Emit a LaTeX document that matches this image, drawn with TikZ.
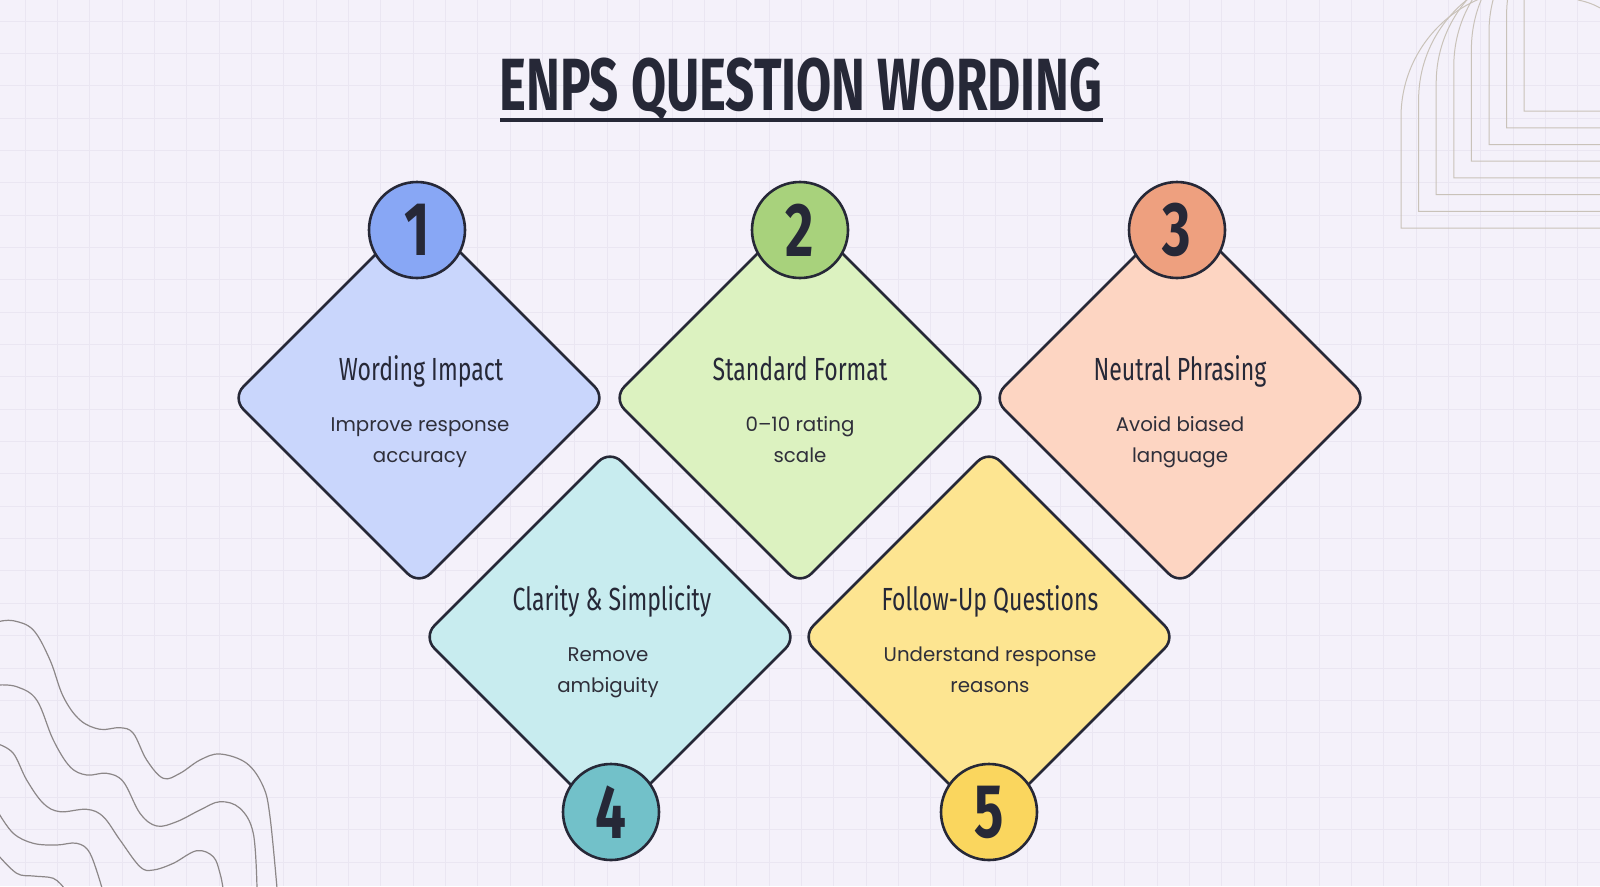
\documentclass[tikz,border=0pt]{standalone}
\usepackage{fontspec}
\usepackage{graphicx}
\usetikzlibrary{shapes.geometric}
\newfontfamily\headfont{Fira Sans}
\newfontfamily\bodyfont{Poppins}
\definecolor{bgc}{HTML}{F4F1FA}
\definecolor{gridc}{HTML}{EAE6F2}
\definecolor{ink}{HTML}{262837}
\definecolor{bodyc}{HTML}{2F2F3A}
\definecolor{archc}{HTML}{C9C2B9}
\definecolor{wavec}{HTML}{8C8788}
\definecolor{dA}{HTML}{C9D6FC}\definecolor{cA}{HTML}{88A7F5}
\definecolor{dB}{HTML}{DCF2C0}\definecolor{cB}{HTML}{A8D27C}
\definecolor{dC}{HTML}{FDD5C2}\definecolor{cC}{HTML}{EEA07F}
\definecolor{dD}{HTML}{C8ECEF}\definecolor{cD}{HTML}{72C1C9}
\definecolor{dE}{HTML}{FDE591}\definecolor{cE}{HTML}{FAD65E}
\newcommand{\headtxt}[1]{\scalebox{0.72}[1]{\headfont\fontsize{32}{32}\selectfont #1}}
\newcommand{\numtxt}[1]{\scalebox{0.72}[1]{\headfont\bfseries\fontsize{76}{76}\selectfont #1}}
\tikzset{
  gridline/.style={draw=gridc, line width=1pt},
  archline/.style={draw=archc, line width=1pt},
  waveline/.style={draw=wavec, line width=1.2pt},
  diabox/.style={diamond, draw=ink, line width=2.6pt, rounded corners=16pt, minimum width=375pt, minimum height=375pt, inner sep=0pt, aspect=1},
  numcirc/.style={circle, draw=ink, line width=2.6pt, minimum size=96pt, inner sep=0pt, text=ink},
  headlbl/.style={anchor=base, text=ink, inner sep=0pt},
  bodylbl/.style={anchor=base, text=bodyc, align=center, inner sep=0pt, font=\bodyfont\fontsize{19.8}{30.5}\selectfont},
}
\begin{document}
\begin{tikzpicture}[x=1pt,y=-1pt]
\path[fill=bgc] (0,0) rectangle (1600,886);
\useasboundingbox (0,0) rectangle (1600,886);
\begin{scope}
\clip (0,0) rectangle (1600,886);
% grid
\foreach \i in {0,...,49} \draw[gridline] ({25+32.35*\i},0) -- ({25+32.35*\i},886);
\foreach \j in {0,...,27} \draw[gridline] (0,{21+32.35*\j}) -- (1600,{21+32.35*\j});
% arches top right
\foreach \i in {0,...,7} {
  \pgfmathsetmacro\xl{1401+17.6*\i}
  \pgfmathsetmacro\yb{228-16.7*\i}
  \pgfmathsetmacro\yc{117-17*\i}
  \draw[archline] (1600,\yb) -- (\xl,\yb) -- (\xl,\yc) arc[start angle=180, end angle=270, radius=128];
}
\draw[archline] (1578,0) .. controls (1588,2) and (1595,5) .. (1602,9);
% waves bottom left
\draw[waveline] plot[smooth, tension=0.6] coordinates {(-2,621.7) (13.3,620.7) (33.3,630) (50,660) (63.3,696.7) (80,720) (100,729.3) (120,727.7) (133.3,733.3) (146.7,760) (163.3,778.3) (180,773.3) (200,760) (220,754) (246.7,763.3) (263.3,786.7) (270,816.7) (277,888)};
\draw[waveline] plot[smooth, tension=0.6] coordinates {(-2,685) (16.7,686.7) (36.7,700) (53.3,740) (70,766.7) (86.7,775) (106.7,773.3) (123.3,781.7) (140,813.3) (156.7,826) (176.7,821.7) (200,810) (220,801.7) (240,808.3) (253.3,833.3) (257,888)};
\draw[waveline] plot[smooth, tension=0.6] coordinates {(-2,744) (13.3,753.3) (26.7,780) (43.3,803.3) (60,811.7) (86.7,809.3) (103.3,816.7) (120,840) (140,866.7) (153.3,870) (173.3,863.3) (196.7,850.7) (213.3,856.7) (220,873.3) (223,888)};
\draw[waveline] plot[smooth, tension=0.6] coordinates {(-2,812) (13.3,833.3) (33.3,843.3) (56.7,845) (76.7,843.3) (90,853.3) (102,888)};
\draw[waveline] plot[smooth, tension=0.6] coordinates {(-2,855) (16.7,873.3) (33.3,876) (53.3,878.3) (64,888)};
\end{scope}
% title
\node[anchor=base, inner sep=0pt, text=ink] (title) at (801,110) {\resizebox{603pt}{\height}{\headfont\bfseries\fontsize{74}{74}\selectfont ENPS QUESTION WORDING}};
\coordinate (ulA) at (500,119.5);
\coordinate (ulB) at (1103,119.5);
\draw[ink, line width=4pt] (ulA) -- (ulB);
% diamonds
\node[diabox, fill=dA] (d1) at (419,398) {};
\node[diabox, fill=dB] (d2) at (800,398) {};
\node[diabox, fill=dC] (d3) at (1180,398) {};
\node[diabox, fill=dD] (d4) at (610,637) {};
\node[diabox, fill=dE] (d5) at (989,637) {};
% number circles
\node[numcirc, fill=cA] (n1) at (417,230) {\numtxt{1}};
\node[numcirc, fill=cB] (n2) at (800,230) {\numtxt{2}};
\node[numcirc, fill=cC] (n3) at (1177,230) {\numtxt{3}};
\node[numcirc, fill=cD] (n4) at (611,812) {\numtxt{4}};
\node[numcirc, fill=cE] (n5) at (989,812) {\numtxt{5}};
% headings
\node[headlbl] (h1) at (421,380) {\headtxt{Wording Impact}};
\node[headlbl] (h2) at (800,380) {\headtxt{Standard Format}};
\node[headlbl] (h3) at (1180,380) {\headtxt{Neutral Phrasing}};
\node[headlbl] (h4) at (612,610) {\headtxt{Clarity \& Simplicity}};
\node[headlbl] (h5) at (990,610) {\headtxt{Follow-Up Questions}};
% body texts (base anchor = baseline of last line)
\node[bodylbl] (b1) at (420,462) {Improve response\\accuracy};
\node[bodylbl] (b2) at (800,462) {0–10 rating\\scale};
\node[bodylbl] (b3) at (1180,462) {Avoid biased\\language};
\node[bodylbl] (b4) at (608,692) {Remove\\ambiguity};
\node[bodylbl] (b5) at (990,692) {Understand response\\reasons};
\end{tikzpicture}
\end{document}
